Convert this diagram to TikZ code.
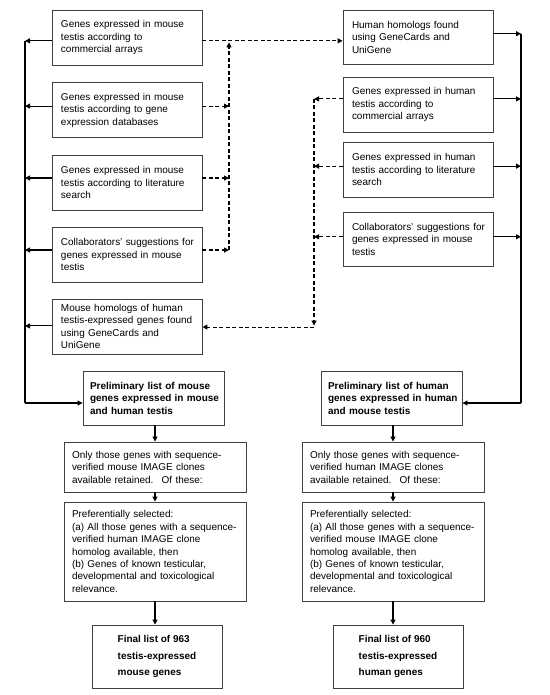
\documentclass[tikz,border=0pt]{standalone}
\usepackage{fontspec}
\setmainfont{Liberation Sans}
\usetikzlibrary{arrows.meta,calc}
\newcommand{\oneline}[1]{\mbox{#1}}
\begin{document}
\begin{tikzpicture}[x=1bp,y=-1bp,
  box/.style={draw=black!75, line width=0.9bp, align=left, inner ysep=0pt,
    font=\fontsize{10}{12.5}\selectfont},
  srcbox/.style={box, text width=132bp, inner xsep=9bp, minimum height=55bp},
  prelbox/.style={box, text width=127bp, inner xsep=7bp, minimum height=54bp,
    font=\bfseries\fontsize{10}{12.5}\selectfont},
  widebox/.style={box, text width=166bp, inner xsep=8bp},
  finbox/.style={box, minimum width=130bp, minimum height=63bp, inner xsep=0pt,
    font=\bfseries\fontsize{10}{16.3}\selectfont},
  conn/.style={line width=1.1bp, -{Triangle[length=5bp,width=5bp]}},
  bus/.style={line width=1.1bp},
  dconn/.style={conn, dash pattern=on 4bp off 2.5bp},
]
\useasboundingbox (0,0) rectangle (550,695);

% left column (mouse sources)
\node[srcbox] (L1) at (127,37.5) {Genes expressed in mouse\\testis according to\\commercial arrays};
\node[srcbox] (L2) at (127,110) {Genes expressed in mouse\\testis according to gene\\expression databases};
\node[srcbox] (L3) at (127,182.5) {Genes expressed in mouse\\\oneline{testis according to literature}\\search};
\node[srcbox] (L4) at (127,254.5) {\oneline{Collaborators' suggestions for}\\genes expressed in mouse\\testis};
\node[srcbox] (L5) at (127,326.5) {Mouse homologs of human\\\oneline{testis-expressed genes found}\\using GeneCards and\\UniGene};

% right column (human sources)
\node[srcbox, minimum height=54bp] (H1) at (418,37) {Human homologs found\\using GeneCards and\\UniGene};
\node[srcbox] (H2) at (418,104.5) {Genes expressed in human\\testis according to\\commercial arrays\par\vspace*{10bp}};
\node[srcbox] (H3) at (418,169.5) {Genes expressed in human\\\oneline{testis according to literature}\\search};
\node[srcbox, minimum height=54bp] (H4) at (418,239) {\oneline{Collaborators' suggestions for}\\genes expressed in mouse\\testis};

% preliminary lists
\node[prelbox] (PM) at (153.5,398) {\oneline{Preliminary list of mouse}\\\oneline{genes expressed in mouse}\\\oneline{and human testis}};
\node[prelbox] (PH) at (391.5,398) {\oneline{Preliminary list of human}\\\oneline{genes expressed in human}\\\oneline{and mouse testis}};

% filters
\node[widebox, minimum height=50bp] (OM) at (155,467) {\oneline{Only those genes with sequence-}\\verified mouse IMAGE clones\\available retained.~ Of these:};
\node[widebox, minimum height=50bp] (OH) at (393,467) {\oneline{Only those genes with sequence-}\\verified human IMAGE clones\\available retained.~ Of these:};
\node[widebox, minimum height=99bp] (RM) at (155,551.5) {Preferentially selected:\\\oneline{(a) All those genes with a sequence-}\\verified human IMAGE clone\\homolog available, then\\(b) Genes of known testicular,\\developmental and toxicological\\relevance.};
\node[widebox, minimum height=99bp] (RH) at (393,551.5) {Preferentially selected:\\\oneline{(a) All those genes with a sequence-}\\verified mouse IMAGE clone\\homolog available, then\\(b) Genes of known testicular,\\developmental and toxicological\\relevance.};

% finals
\node[finbox] (FM) at (157,656.5) {Final list of 963\\testis-expressed\\mouse genes};
\node[finbox] (FH) at (398,656.5) {Final list of 960\\testis-expressed\\human genes};

% bus and dashed rail positions
\coordinate (busL) at (25,403);
\coordinate (busR) at (521,403);
\coordinate (dL) at (229,0);
\coordinate (dR) at (314,0);

% left solid connections
\coordinate (a1) at ($(L1.north west)!0.56!(L1.south west)$);
\coordinate (a2) at ($(L2.north west)!0.43!(L2.south west)$);
\coordinate (a3) at ($(L3.north west)!0.42!(L3.south west)$);
\coordinate (a4) at ($(L4.north west)!0.42!(L4.south west)$);
\coordinate (a5) at ($(L5.north west)!0.49!(L5.south west)$);
\foreach \p in {a1,a2,a3,a4,a5} {\draw[conn] (\p) -- (\p -| busL);}
\draw[bus] (a1 -| busL) -- (busL);
\draw[conn] (busL) -- (busL -| PM.west);

% right solid connections
\coordinate (h1) at ($(H1.north east)!0.44!(H1.south east)$);
\coordinate (h2) at ($(H2.north east)!0.40!(H2.south east)$);
\coordinate (h3) at ($(H3.north east)!0.44!(H3.south east)$);
\coordinate (h4) at ($(H4.north east)!0.46!(H4.south east)$);
\foreach \p in {h1,h2,h3,h4} {\draw[conn] (\p) -- (\p -| busR);}
\draw[bus] (h1 -| busR) -- (busR);
\draw[conn] (busR) -- (busR -| PH.east);

% left dashed connections
\coordinate (e1) at ($(L1.north east)!0.56!(L1.south east)$);
\coordinate (e2) at ($(L2.north east)!0.43!(L2.south east)$);
\coordinate (e3) at ($(L3.north east)!0.42!(L3.south east)$);
\coordinate (e4) at ($(L4.north east)!0.42!(L4.south east)$);
\draw[dconn] (e1) -- (e1 -| H1.west);
\foreach \p in {e2,e3,e4} {\draw[dconn] (\p) -- (\p -| dL);}
\draw[dconn] (e4 -| dL) -- ([yshift=-1.5bp]e1 -| dL);

% right dashed connections
\coordinate (f2) at ($(H2.north west)!0.40!(H2.south west)$);
\coordinate (f3) at ($(H3.north west)!0.44!(H3.south west)$);
\coordinate (f4) at ($(H4.north west)!0.46!(H4.south west)$);
\coordinate (g5) at ($(L5.north east)!0.51!(L5.south east)$);
\foreach \p in {f2,f3,f4} {\draw[dconn] (\p) -- (\p -| dR);}
\draw[dconn] (f2 -| dR) -- ([yshift=1.5bp]g5 -| dR);
\draw[dconn] (g5 -| dR) -- (g5);

% vertical flow
\draw[conn] (PM.south -| OM.north) -- (OM.north);
\draw[conn] (OM.south) -- (RM.north);
\draw[conn] (RM.south) -- (RM.south |- FM.north);
\draw[conn] (PH.south -| OH.north) -- (OH.north);
\draw[conn] (OH.south) -- (RH.north);
\draw[conn] (RH.south) -- (RH.south |- FH.north);
\end{tikzpicture}
\end{document}
